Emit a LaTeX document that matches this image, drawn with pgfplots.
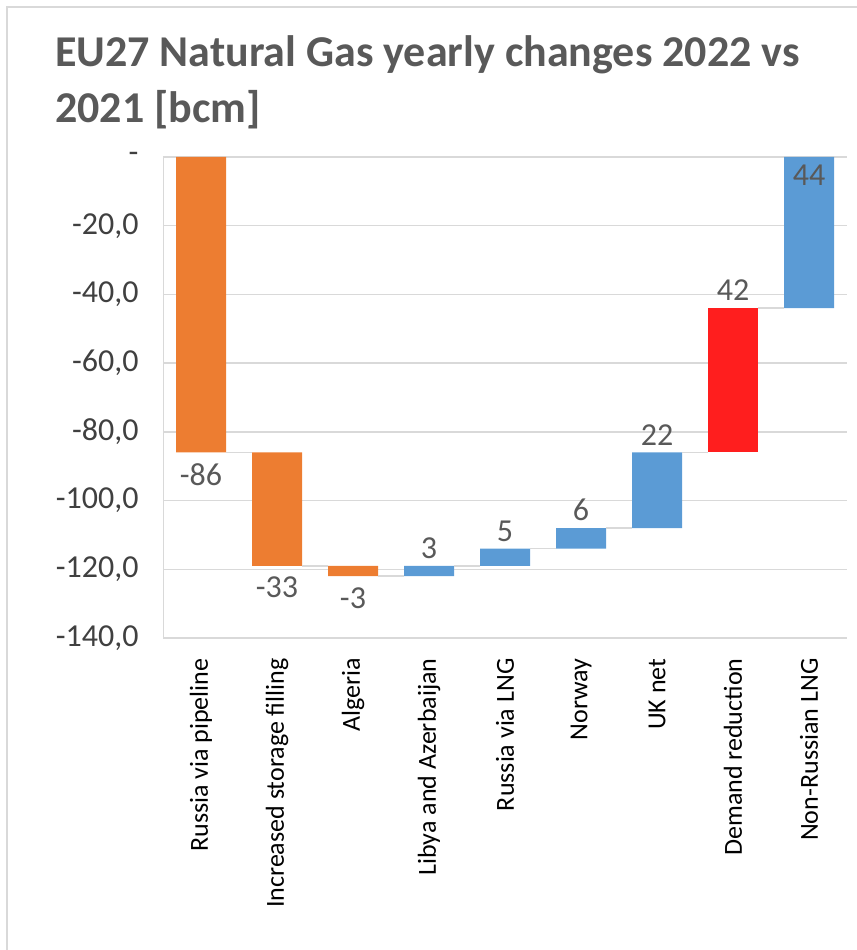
\documentclass[border=0pt]{standalone}
\usepackage{pgfplots}
\pgfplotsset{compat=1.18}
\usepackage{fontspec}
\setmainfont{Carlito}
\definecolor{xorange}{HTML}{ED7D31}
\definecolor{xblue}{HTML}{5B9BD5}
\definecolor{xred}{HTML}{FF1E1E}
\definecolor{xgrid}{HTML}{D9D9D9}
\definecolor{xtitle}{HTML}{595959}
\definecolor{xtick}{HTML}{404040}
\begin{document}
\begin{tikzpicture}
\useasboundingbox (0,0) rectangle (857bp,950bp);
\draw[xgrid, line width=1.5bp] (7bp,0) -- (7bp,943bp) -- (860bp,943bp);
\node[anchor=base west, text=xtitle, font=\fontsize{44bp}{56bp}\selectfont\bfseries, inner sep=0pt] at (55bp,883bp)
  {EU27 Natural Gas yearly changes 2022 vs};
\node[anchor=base west, text=xtitle, font=\fontsize{44bp}{56bp}\selectfont\bfseries, inner sep=0pt] at (55bp,827bp)
  {2021 [bcm]};
\pgfplotsset{
  mybase/.style={
    at={(163bp,312bp)}, anchor=south west,
    scale only axis, width=684bp, height=481bp,
    xmin=-0.5, xmax=8.5, ymin=-140, ymax=0,
  }
}
\begin{axis}[
  mybase,
  ybar stacked, bar width=50bp,
  axis line style={draw=none},
  major tick length=0pt,
  ymajorgrids, grid style={xgrid, line width=1.5bp},
  ytick={-140,-120,-100,-80,-60,-40,-20,0},
  yticklabels={{-140,0},{-120,0},{-100,0},{-80,0},{-60,0},{-40,0},{-20,0},{-}},
  yticklabel style={font=\fontsize{32bp}{36bp}\selectfont, text=xtick, xshift=-21bp},
  xtick={0,...,8},
  xticklabels={Russia via pipeline,Increased storage filling,Algeria,Libya and Azerbaijan,Russia via LNG,Norway,UK net,Demand reduction,Non-Russian LNG},
  xticklabel style={rotate=90, anchor=east, font=\fontsize{26bp}{30bp}\selectfont, text=black, xshift=-17bp},
]
\addplot[draw=none, fill=none] coordinates {(0,0) (1,-86) (2,-119) (3,-119) (4,-114) (5,-108) (6,-86) (7,-44) (8,0)};
\addplot[draw=none, fill=xorange] coordinates {(0,-86) (1,-33) (2,-3) (3,0) (4,0) (5,0) (6,0) (7,0) (8,0)};
\addplot[draw=none, fill=xblue] coordinates {(0,0) (1,0) (2,0) (3,-3) (4,-5) (5,-6) (6,-22) (7,0) (8,-44)};
\addplot[draw=none, fill=xred] coordinates {(0,0) (1,0) (2,0) (3,0) (4,0) (5,0) (6,0) (7,-42) (8,0)};
\draw[xgrid, line width=1.5bp] (rel axis cs:0,0) -- (rel axis cs:0,1);
\end{axis}
\begin{axis}[
  mybase, hide axis, clip=false,
  unbounded coords=jump,
]
% connector lines
\addplot[xgrid, line width=1.5bp] coordinates {
  (0.33,-86) (0.67,-86) (1,nan)
  (1.33,-119) (1.67,-119) (2,nan)
  (2.33,-122) (2.67,-122) (3,nan)
  (3.33,-119) (3.67,-119) (4,nan)
  (4.33,-114) (4.67,-114) (5,nan)
  (5.33,-108) (5.67,-108) (6,nan)
  (6.33,-86) (6.67,-86) (7,nan)
  (7.33,-44) (7.67,-44)
};
% labels below (negative changes)
\addplot[draw=none, mark=none, nodes near coords={\pgfplotspointmeta}, point meta=explicit symbolic,
  every node near coord/.style={anchor=north, text=xtitle, font=\fontsize{32bp}{36bp}\selectfont, inner sep=11bp}]
  coordinates {(0,-86) [-86] (1,-119) [-33] (2,-122) [-3]};
% labels above (positive changes)
\addplot[draw=none, mark=none, nodes near coords={\pgfplotspointmeta}, point meta=explicit symbolic,
  every node near coord/.style={anchor=south, text=xtitle, font=\fontsize{32bp}{36bp}\selectfont, inner sep=7bp}]
  coordinates {(3,-119) [3] (4,-114) [5] (5,-108) [6] (6,-86) [22] (7,-44) [42]};
% label inside the top of last bar
\addplot[draw=none, mark=none, nodes near coords={\pgfplotspointmeta}, point meta=explicit symbolic,
  every node near coord/.style={anchor=north, text=xtitle, font=\fontsize{32bp}{36bp}\selectfont, inner sep=8bp}]
  coordinates {(8,0) [44]};
\end{axis}
\end{tikzpicture}
\end{document}
